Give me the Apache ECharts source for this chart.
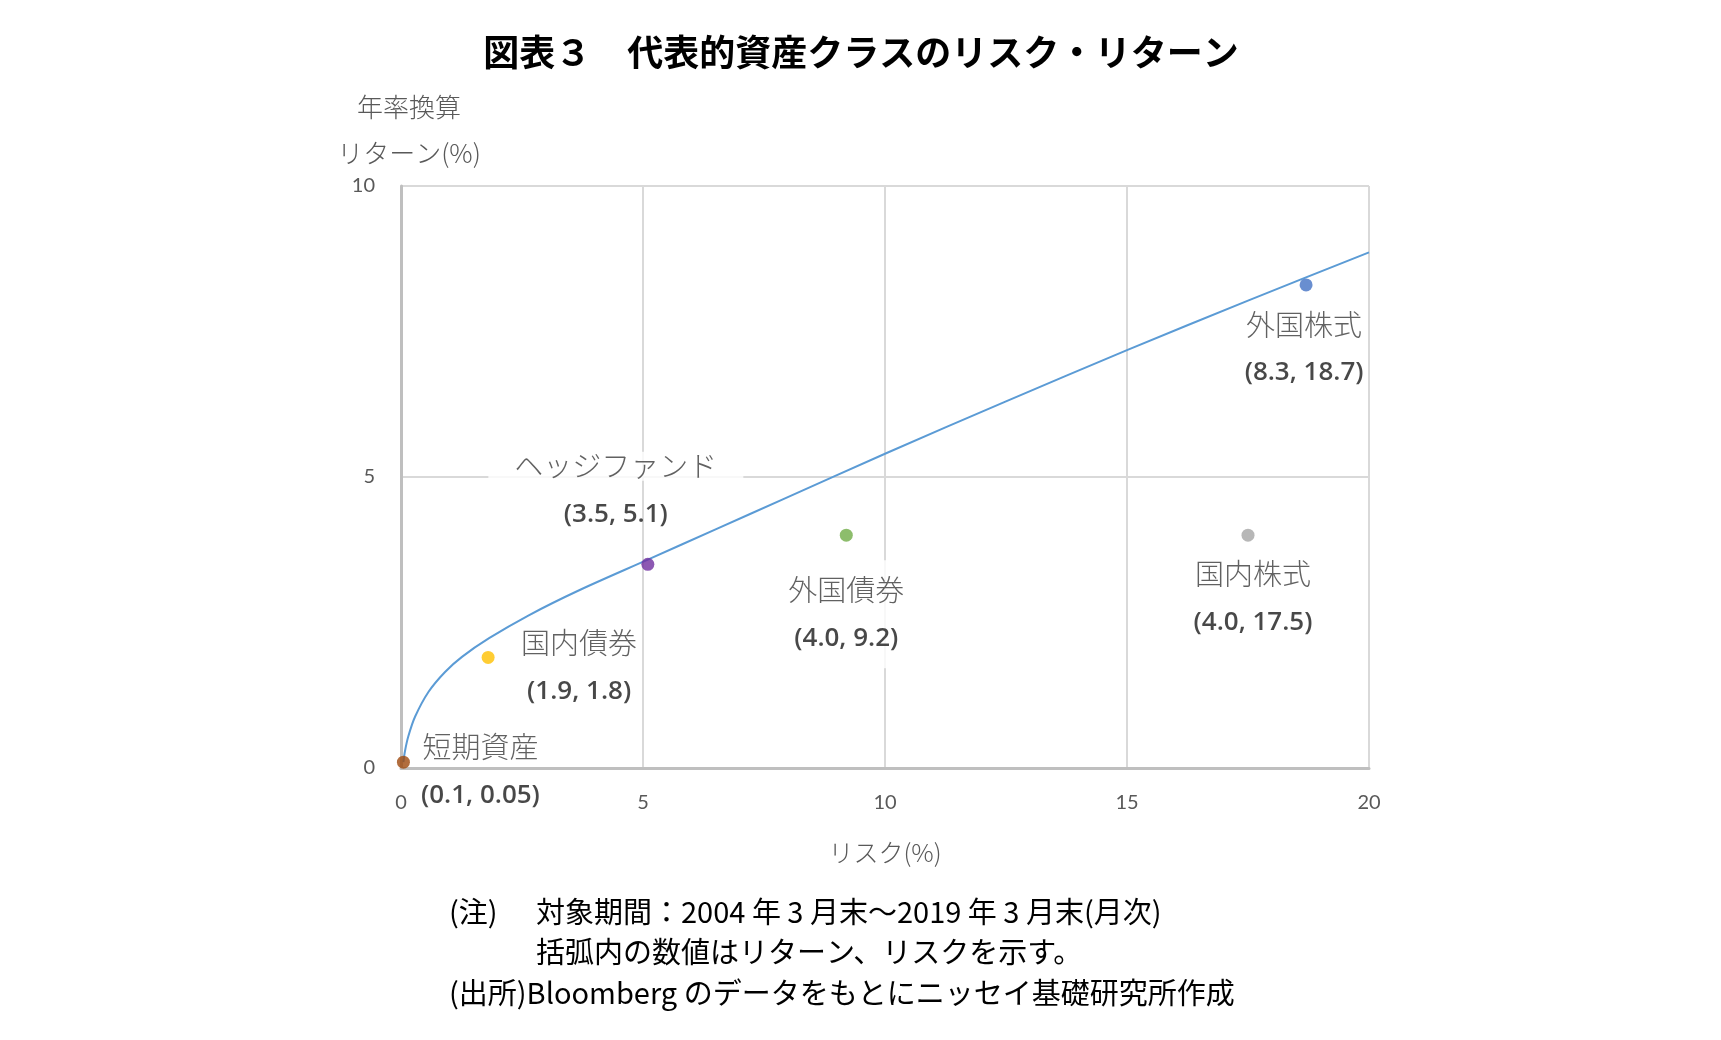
<!DOCTYPE html>
<html>
<head>
<meta charset="utf-8">
<script src="https://cdn.jsdelivr.net/npm/echarts@6/dist/echarts.min.js"></script>
<style>
html,body{margin:0;padding:0;background:#fff;}
#chart{width:1721px;height:1040px;}
</style>
</head>
<body>
<div id="chart"></div>
<script>
// ---- data ----
const assetNames = ['短期資産', '国内債券', 'ヘッジファンド', '外国債券', '国内株式', '外国株式'];
const assetRisk = [0.05, 1.8, 5.1, 9.2, 17.5, 18.7];
const assetReturn = [0.1, 1.9, 3.5, 4.0, 4.0, 8.3];
const frontierRisk = [0.05, 0.08, 0.15, 0.29, 0.57, 0.91, 1.26, 1.82, 2.63, 3.67, 5.1, 6.5, 7.9, 10.0, 12.5, 15.0, 17.5, 20.0];
const frontierReturn = [0.10, 0.28, 0.54, 0.88, 1.31, 1.65, 1.91, 2.23, 2.62, 3.05, 3.58, 4.10, 4.62, 5.40, 6.30, 7.18, 8.03, 8.86];

// ---- styles / layout ----
const pointColors = ['#9E480E', '#FFC000', '#7030A0', '#70AD47', '#A5A5A5', '#4472C4'];
const labelOffsets = [[77, 9], [91, 10], [-32, -74], [0, 79], [5, 63], [-2, 64]];
const labelBg = ['transparent', 'transparent', 'transparent', '#fff', 'transparent', 'transparent'];
const nameBg = ['transparent', 'transparent', '#fff', 'transparent', 'transparent', 'transparent'];
const namePad = [[0, 0], [0, 0], [0, 26], [0, 0], [0, 0], [0, 0]];

function fmt(v) { return v < 0.1 ? String(v) : v.toFixed(1); }

const chart = echarts.init(document.getElementById('chart'));

const frontierData = frontierRisk.map((r, i) => [r, frontierReturn[i]]);

const scatterSeries = assetNames.map((name, i) => ({
  name: name,
  type: 'scatter',
  z: 5,
  symbolSize: 13,
  itemStyle: { color: pointColors[i] },
  data: [[assetRisk[i], assetReturn[i]]],
  label: {
    show: true,
    position: 'inside',
    offset: labelOffsets[i],
    align: 'center',
    verticalAlign: 'middle',
    backgroundColor: labelBg[i],
    padding: [6, 4],
    formatter: () => '{n|' + name + '}\n{v|(' + fmt(assetReturn[i]) + ', ' + fmt(assetRisk[i]) + ')}',
    rich: {
      n: { fontSize: 29, fontWeight: 300, fontFamily: 'Noto Sans CJK JP', color: '#3A3A3A', lineHeight: 48, align: 'center',
           backgroundColor: nameBg[i], padding: namePad[i] },
      v: { fontSize: 26, fontWeight: 600, fontFamily: 'Open Sans', color: '#1A1A1A', lineHeight: 48, align: 'center' }
    }
  }
}));

chart.setOption({
  animation: false,
  backgroundColor: '#fff',
  title: {
    text: '図表３　代表的資産クラスのリスク・リターン',
    left: 856,
    top: 29,
    textAlign: 'center',
    textStyle: { fontSize: 36, fontWeight: 'bold', color: '#000', fontFamily: 'Noto Sans CJK JP' }
  },
  grid: { left: 401, top: 186, width: 968, height: 582 },
  xAxis: {
    type: 'value',
    min: 0, max: 20, interval: 5,
    name: 'リスク(%)',
    nameLocation: 'middle',
    nameGap: 72,
    nameTextStyle: { fontSize: 25, fontWeight: 300, color: '#595959', fontFamily: 'Noto Sans CJK JP', verticalAlign: 'top' },
    axisLine: { show: true, lineStyle: { color: '#BFBFBF', width: 3 } },
    axisTick: { show: false },
    axisLabel: { margin: 25, fontSize: 20, color: '#595959', fontFamily: 'Lato' },
    splitLine: { show: true, lineStyle: { color: '#D9D9D9', width: 2 } }
  },
  yAxis: {
    type: 'value',
    min: 0, max: 10, interval: 5,
    name: '年率換算\nリターン(%)',
    nameLocation: 'end',
    nameGap: 3,
    nameTextStyle: { fontSize: 26, fontWeight: 300, color: '#595959', fontFamily: 'Noto Sans CJK JP', lineHeight: 46, align: 'center', padding: [0, 0, 0, 16] },
    axisLine: { show: true, lineStyle: { color: '#BFBFBF', width: 3 } },
    axisTick: { show: false },
    axisLabel: { margin: 26, fontSize: 20, color: '#595959', fontFamily: 'Lato' },
    splitLine: { show: true, lineStyle: { color: '#D9D9D9', width: 2 } }
  },
  series: [
    {
      name: '効率的フロンティア',
      type: 'line',
      z: 3,
      smooth: 0.3,
      showSymbol: false,
      symbol: 'none',
      lineStyle: { color: '#5B9BD5', width: 2 },
      data: frontierData
    }
  ].concat(scatterSeries),
  graphic: [
    { type: 'text', left: 449, top: 897, style: { text: '(注)', fontSize: 29, fontFamily: 'Noto Sans CJK JP', fill: '#000' } },
    { type: 'text', left: 536, top: 897, style: { text: '対象期間：2004 年 3 月末～2019 年 3 月末(月次)', fontSize: 29, fontFamily: 'Noto Sans CJK JP', fill: '#000' } },
    { type: 'text', left: 536, top: 937, style: { text: '括弧内の数値はリターン、リスクを示す。', fontSize: 29, fontFamily: 'Noto Sans CJK JP', fill: '#000' } },
    { type: 'text', left: 449, top: 978, style: { text: '(出所)Bloomberg のデータをもとにニッセイ基礎研究所作成', fontSize: 29, fontFamily: 'Noto Sans CJK JP', fill: '#000' } }
  ]
});
</script>
</body>
</html>
